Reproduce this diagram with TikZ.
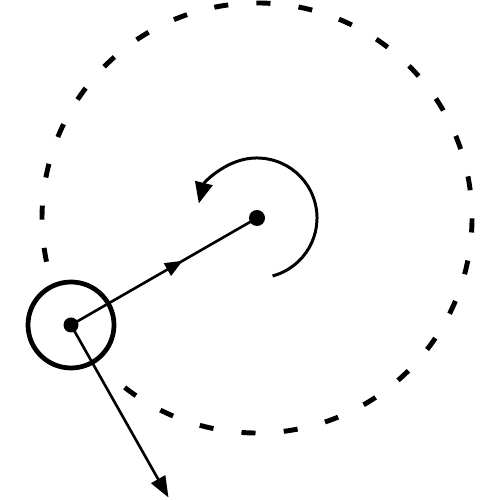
\documentclass[tikz,border=0pt]{standalone}
\usetikzlibrary{arrows.meta,decorations.markings}

\begin{document}
\begin{tikzpicture}
[lineDecorate/.style={-,line width=1.5pt},%
  orbitDecorate/.style={line width=2.8pt,dash pattern=on 8pt off 16.1pt},
  spinDecorate/.style={line width=1.7pt,-{Triangle[length=12pt,width=10pt]}},
  dotDecorate/.style={shape=circle,fill,inner sep=0pt,minimum size=3.2mm},
  ringDecorate/.style={shape=circle,draw,line width=2.7pt,inner sep=0pt,minimum size=17.2mm},
  midArrow/.style={postaction={decorate},decoration={markings,
    mark=at position 0.6 with {\arrow{Triangle[length=10pt,width=8pt]}}}}]
\useasboundingbox (0,0) rectangle (10,10);
%% nodes or vertices
\node (center) at (5.14,5.64) [dotDecorate] {};
\node (planet) at (1.42,3.50) [dotDecorate,minimum size=3mm] {};
\node (ring) at (planet) [ringDecorate] {};
\coordinate (tangent) at (3.37,0.05);
%% orbit and spin
\draw[orbitDecorate] ([shift={(-128:4.3)}]center.center)
  arc[start angle=-128,end angle=192,radius=4.3];
\draw[spinDecorate] ([shift={(-75:1.2)}]center.center)
  arc[start angle=-75,end angle=166,radius=1.2];
%% edges or lines
\draw[lineDecorate,midArrow] (planet.center) -- (center.center);
\draw[lineDecorate,-{Triangle[length=12pt,width=9pt]}] (planet.center) -- (tangent);
\end{tikzpicture}
\end{document}
